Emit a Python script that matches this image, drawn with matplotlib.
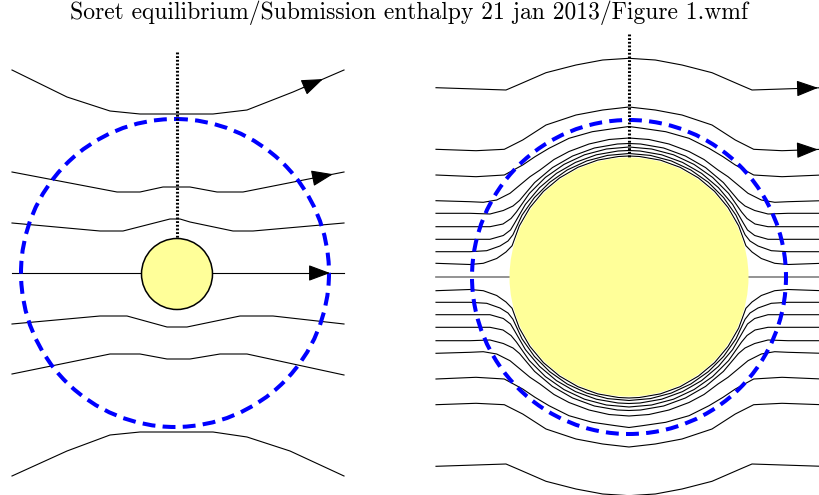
import numpy as np
import matplotlib
matplotlib.use("Agg")
import matplotlib.pyplot as plt
from matplotlib.patches import Circle

W, H = 819, 495
TITLE = "Soret equilibrium/Submission enthalpy 21 jan 2013/Figure 1.wmf"
YELLOW = "#ffff99"
BLUE = "#0000ff"

# left panel: streamlines past a small sphere (pixel coords, y downwards)
LEFT_LINES = [
    ([12, 67, 110, 140, 213, 247, 293, 344], [70, 97, 111, 114, 114, 110, 92, 70]),
    ([12, 117, 140, 163, 190, 217, 243, 344], [172, 192, 192, 187, 187, 192, 192, 172]),
    ([12, 100, 123, 170, 180, 190, 233, 253, 344], [223, 231, 231, 219, 219, 222, 231, 231, 223]),
    ([12, 344], [273, 273]),
    ([12, 100, 127, 167, 187, 240, 273, 344], [324, 316, 316, 327, 327, 316, 316, 324]),
    ([12, 110, 140, 167, 190, 220, 247, 344], [374, 354, 354, 359, 359, 354, 354, 375]),
    ([12, 67, 110, 140, 213, 247, 290, 344], [476, 451, 435, 432, 432, 437, 451, 476]),
]
LEFT_ARROW_TIP = {0: 323, 1: 333, 3: 330}
LEFT_SPHERE = (177, 274, 35.5)
LEFT_HALO = (175, 273, 154)
LEFT_DOT_TOP = 52

# right panel: large sphere; upper-left quarter of each streamline,
# dx from the centre and height above the centre (mirrored for the rest)
RIGHT_CENTER = (629, 277)
RIGHT_SPHERE_R = 119.5
RIGHT_HALO_R = 157
RIGHT_DOT_TOP = 34
RIGHT_PROFILES = [
    ([-193, -123, -111.3, -83, -53, -26.3, 0], [189.3, 187, 192, 204.3, 212, 217, 218.7]),
    ([-193, -153, -124.7, -106.3, -83, -53, -26.3, 0], [127.7, 126.3, 127.7, 137, 152, 162, 167, 170]),
    ([-193, -153, -124.7, -106.3, -94, -80, -60, -36.7, -13.3, 0],
     [102, 100.3, 102, 112, 120.3, 128.7, 138.7, 145.3, 148.7, 150.5]),
    ([-193, -159, -145.7, -132.3, -119, -109, -99, -89, -75, -60, -40, -20, 0],
     [76.3, 75.3, 74.7, 77, 83.7, 92, 100.3, 107, 117.5, 125.5, 133, 137.5, 139]),
    ([-193, -159, -139, -125.7, -116, -109.4, -94.4, -76.6, -56.4, -34.6, -11.6, 0],
     [63.7, 63.7, 63, 66.5, 71, 76.6, 94.4, 109.4, 121, 129, 133, 133.5]),
    ([-193, -159, -139, -126, -118, -112.6, -99.6, -83.6, -65, -44.5, -22.6, 0],
     [50.3, 50.3, 50.3, 53, 58.5, 65, 83.6, 99.6, 112.6, 122.2, 128, 130]),
    ([-193, -159, -139, -125.7, -118.5, -114.6, -103.6, -89.4, -72.6, -53.5, -32.7, -11, 0],
     [37.7, 37.7, 37.7, 41.5, 47, 53.5, 72.6, 89.4, 103.6, 114.6, 122.2, 126, 126.5]),
    ([-193, -159, -142.3, -129, -121, -116.1, -107, -94.6, -79.4, -61.8, -42.2, -21.4, 0],
     [25.3, 25.3, 26.3, 31, 36, 42.2, 61.8, 79.4, 94.6, 107, 116.1, 121.6, 123.5]),
    ([-193, -159, -145.7, -132.3, -123, -116.9, -109.7, -99.1, -85.6, -69.4, -51.1, -31.3, -10.5, 0],
     [13.7, 12.5, 13.7, 18.5, 25, 31.3, 51.1, 69.4, 85.6, 99.1, 109.7, 116.9, 120.5, 121]),
]
RIGHT_ARROW_LINES = [0, 1]
RIGHT_ARROW_TIP = 818


def arrow(ax, xs, ys, tip_x, back=20):
    ty = np.interp(tip_x, xs, ys)
    sx = tip_x - back
    sy = np.interp(sx, xs, ys)
    ax.annotate("", xy=(tip_x, ty), xytext=(sx, sy), zorder=6,
                arrowprops=dict(arrowstyle="-|>,head_length=0.75,head_width=0.28",
                                mutation_scale=18, color="black", lw=0.8,
                                shrinkA=0, shrinkB=0))


fig = plt.figure(figsize=(W / 100, H / 100), dpi=100)
ax = fig.add_axes([0, 0, 1, 1])
ax.set_xlim(0, W); ax.set_ylim(H, 0); ax.axis("off")

ax.text(409, 13, TITLE, ha="center", va="center", fontsize=17, family="cmr10")

# left panel
for i, (xs, ys) in enumerate(LEFT_LINES):
    ax.plot(xs, ys, color="black", lw=0.8, zorder=2)
    if i in LEFT_ARROW_TIP:
        arrow(ax, xs, ys, LEFT_ARROW_TIP[i])
cx, cy, r = LEFT_SPHERE
ax.add_patch(Circle((cx, cy), r, facecolor=YELLOW, edgecolor="black", lw=1.1, zorder=3))
hx, hy, hr = LEFT_HALO
ax.add_patch(Circle((hx, hy), hr, fill=False, edgecolor=BLUE, lw=2.9,
                    linestyle=(0, (3.2, 1.8)), zorder=4))
ax.plot([cx, cx], [LEFT_DOT_TOP, cy - r], color="black", lw=2.2,
        linestyle=(0, (0.6, 0.6)), zorder=5)

# right panel
cx, cy = RIGHT_CENTER
ax.plot([cx - 193, cx + 193], [cy, cy], color="#808080", lw=1.2, zorder=2)
for i, (dx, dy) in enumerate(RIGHT_PROFILES):
    dx = np.asarray(dx, float); dy = np.asarray(dy, float)
    fx = np.concatenate([dx, -dx[::-1][1:]])
    fy = np.concatenate([dy, dy[::-1][1:]])
    for sign in (1, -1):
        ax.plot(cx + fx, cy - sign * fy, color="black", lw=0.8, zorder=2)
    if i in RIGHT_ARROW_LINES:
        arrow(ax, cx + fx, cy - fy, RIGHT_ARROW_TIP)
ax.add_patch(Circle((cx, cy), RIGHT_SPHERE_R, facecolor=YELLOW, edgecolor="none", zorder=3))
ax.add_patch(Circle((cx, cy), RIGHT_HALO_R, fill=False, edgecolor=BLUE, lw=2.9,
                    linestyle=(0, (3.2, 1.8)), zorder=4))
ax.plot([cx, cx], [RIGHT_DOT_TOP, cy - RIGHT_SPHERE_R], color="black", lw=2.2,
        linestyle=(0, (0.6, 0.6)), zorder=5)

fig.savefig("out.png", dpi=100)
